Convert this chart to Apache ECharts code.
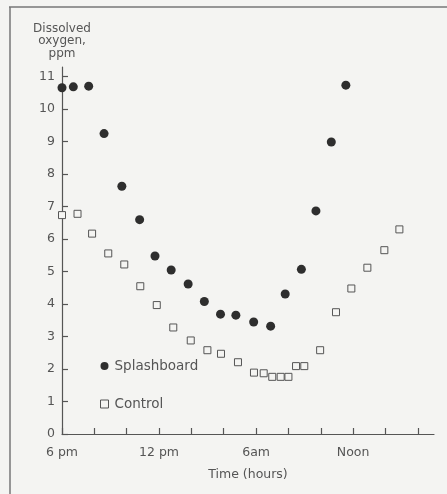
<!DOCTYPE html>
<html>
<head>
<meta charset="utf-8">
<script src="https://cdn.jsdelivr.net/npm/echarts@6/dist/echarts.min.js"></script>
<style>
html,body{margin:0;padding:0;background:#f4f4f2;}
#c{width:447px;height:494px;}
</style>
</head>
<body>
<div id="c"></div>
<script>
// Hours after 6 pm
const splashHours = [0, 0.7, 1.65, 2.6, 3.7, 4.8, 5.75, 6.75, 7.8, 8.8, 9.8, 10.75, 11.85, 12.9, 13.8, 14.8, 15.7, 16.65, 17.55];
const splashValues = [10.66, 10.69, 10.71, 9.25, 7.63, 6.6, 5.48, 5.05, 4.62, 4.08, 3.69, 3.66, 3.45, 3.32, 4.31, 5.07, 6.87, 8.99, 10.74];
const controlHours = [0, 0.96, 1.86, 2.86, 3.85, 4.84, 5.86, 6.88, 7.96, 8.99, 9.83, 10.88, 11.87, 12.47, 13.0, 13.52, 14.0, 14.47, 14.98, 15.96, 16.94, 17.89, 18.88, 19.93, 20.86];
const controlValues = [6.74, 6.78, 6.17, 5.56, 5.22, 4.55, 3.97, 3.28, 2.88, 2.58, 2.47, 2.21, 1.89, 1.87, 1.76, 1.76, 1.76, 2.09, 2.09, 2.58, 3.75, 4.48, 5.12, 5.66, 6.30];
const xTickValues = [0, 2, 4, 6, 8, 10, 12, 14, 16, 18, 20, 22];
const xLabelValues = [0, 6, 12, 18];
const xLabelTexts = ['6 pm', '12 pm', '6am', 'Noon'];
const yTickValues = [0, 1, 2, 3, 4, 5, 6, 7, 8, 9, 10, 11];

const BG = '#f4f4f2';
const INK = '#555';
const FONT = 'DejaVu Sans';

const chart = echarts.init(document.getElementById('c'), null, {renderer: 'canvas'});
chart.setOption({
  backgroundColor: BG,
  animation: false,
  textStyle: {fontFamily: FONT, color: INK},
  grid: {left: 62, right: 13, top: 67, bottom: 60},
  legend: {
    orient: 'vertical', left: 100, top: 359, itemGap: 24, padding: 0,
    itemWidth: 8, itemHeight: 8,
    textStyle: {fontFamily: FONT, fontSize: 13.5, color: INK, padding: [0, 0, 0, 1]},
    data: [
      {name: 'Splashboard', icon: 'circle', itemStyle: {color: '#2e2e2e', opacity: 1}},
      {name: 'Control', icon: 'rect', itemStyle: {color: BG, borderColor: '#555', borderWidth: 1, opacity: 1}}
    ]
  },
  xAxis: {
    type: 'value', min: 0, max: 23,
    name: 'Time (hours)', nameLocation: 'middle', nameGap: 34,
    nameTextStyle: {fontFamily: FONT, fontSize: 12.5, color: INK},
    axisLine: {show: true, lineStyle: {color: INK, width: 1.2}},
    axisTick: {show: true, inside: true, length: 6, customValues: xTickValues, lineStyle: {color: INK, width: 1.2}},
    axisLabel: {
      customValues: xLabelValues, margin: 12, fontSize: 12.5, color: INK, fontFamily: FONT,
      formatter: v => xLabelTexts[xLabelValues.indexOf(v)]
    },
    splitLine: {show: false}
  },
  yAxis: {
    type: 'value', min: 0, max: 11.3,
    name: 'Dissolved\noxygen,\nppm', nameLocation: 'end', nameGap: 7,
    nameTextStyle: {fontFamily: FONT, fontSize: 12, color: INK, align: 'center', verticalAlign: 'bottom', lineHeight: 12.5},
    axisLine: {show: true, lineStyle: {color: INK, width: 1.2}},
    axisTick: {show: true, inside: true, length: 6, customValues: yTickValues, lineStyle: {color: INK, width: 1.2}},
    axisLabel: {customValues: yTickValues, margin: 7, fontSize: 12.5, color: INK, fontFamily: FONT},
    splitLine: {show: false}
  },
  graphic: [
    {type: 'line', shape: {x1: 9, y1: 7, x2: 447, y2: 7}, style: {stroke: '#777', lineWidth: 1.5}, silent: true},
    {type: 'line', shape: {x1: 10, y1: 7, x2: 10, y2: 494}, style: {stroke: '#777', lineWidth: 1.5}, silent: true}
  ],
  series: [
    {
      name: 'Splashboard', type: 'scatter', clip: false,
      symbol: 'circle', symbolSize: 9,
      itemStyle: {color: '#2e2e2e', opacity: 1},
      data: splashHours.map((h, i) => [h, splashValues[i]])
    },
    {
      name: 'Control', type: 'scatter', clip: false,
      symbol: 'rect', symbolSize: 7,
      itemStyle: {color: BG, borderColor: '#555', borderWidth: 1, opacity: 1},
      data: controlHours.map((h, i) => [h, controlValues[i]])
    }
  ]
});
</script>
</body>
</html>
